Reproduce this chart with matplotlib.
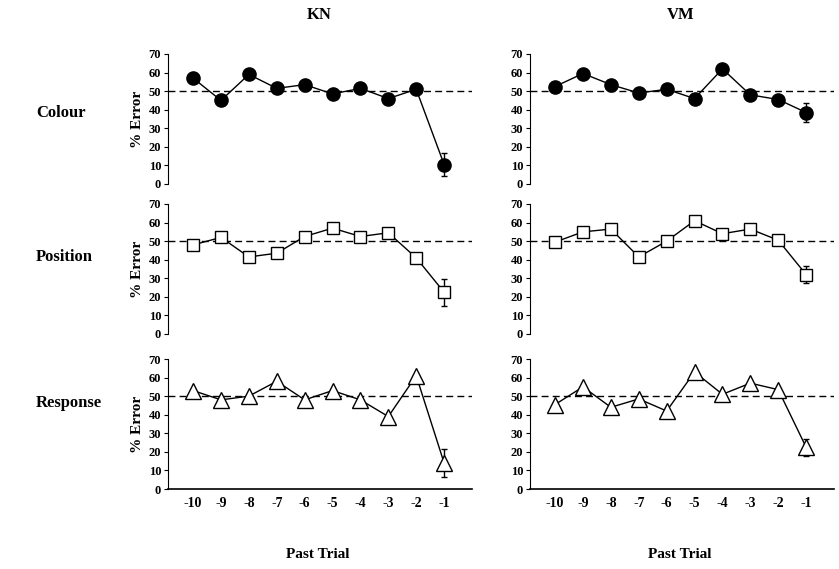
import numpy as np
import matplotlib.pyplot as plt

plt.rcParams['font.family'] = ['Liberation Serif', 'DejaVu Serif']
plt.rcParams['font.weight'] = 'bold'
plt.rcParams['axes.unicode_minus'] = False

# past trial positions
trials = np.array([-10, -9, -8, -7, -6, -5, -4, -3, -2, -1])

# % error, subject KN
kn_colour = [57, 45, 59, 51.5, 53.5, 48.5, 51.5, 46, 51, 10.5]
kn_position = [48, 52, 41.5, 43.5, 52.5, 57, 52.5, 54.5, 41, 22.5]
kn_response = [53, 48, 50, 58, 48, 53, 48, 39, 61, 14]

# % error, subject VM
vm_colour = [52.5, 59.5, 53.5, 49, 51, 46, 62, 48, 45.5, 38.5]
vm_position = [49.5, 55, 56.5, 41.5, 50, 61, 54, 56.5, 50.5, 32]
vm_response = [45.5, 55, 44, 48.5, 42, 63, 51, 57, 53.5, 22.5]

# error bar on the last trial only
kn_err = [6.2, 7.2, 7.5]
vm_err = [5.3, 4.5, 4.5]

rows = ['Colour', 'Position', 'Response']
subjects = ['KN', 'VM']
markers = [('o', 'black', 9.5), ('s', 'white', 8.5), ('^', 'white', 11)]

data = {'KN': [kn_colour, kn_position, kn_response],
        'VM': [vm_colour, vm_position, vm_response]}
errs = {'KN': kn_err, 'VM': vm_err}

fig = plt.figure(figsize=(8.39, 5.69), dpi=100)

W, H = 839, 569
col_left = [168, 530]
col_width = 304
row_top = [54, 204, 359]
row_label_y = [113, 257, 403]
row_h = 130

for c, subj in enumerate(subjects):
    for r in range(3):
        ax = fig.add_axes([col_left[c] / W, 1 - (row_top[r] + row_h) / H,
                           col_width / W, row_h / H])
        vals = data[subj][r]
        m, fc, ms = markers[r]
        ax.axhline(50, color='black', ls=(0, (5, 3)), lw=1, zorder=1)
        ax.plot(trials, vals, color='black', lw=1, zorder=2)
        ax.errorbar(trials[-1:], vals[-1:], yerr=errs[subj][r], fmt='none',
                    ecolor='black', elinewidth=1, capsize=2, zorder=2)
        ax.plot(trials, vals, ls='none', marker=m, ms=ms, mfc=fc,
                mec='black', mew=1, zorder=3)
        ax.set_xlim(-10.9, 0)
        ax.set_ylim(0, 70)
        ax.set_yticks(range(0, 71, 10))
        ax.spines['top'].set_visible(False)
        ax.spines['right'].set_visible(False)
        ax.spines['left'].set_linewidth(0.8)
        ax.tick_params(axis='y', labelsize=9, length=3, width=0.8, pad=2)
        for lab in ax.get_yticklabels():
            lab.set_fontweight('bold')
        if r < 2:
            ax.spines['bottom'].set_visible(False)
            ax.set_xticks([])
        else:
            ax.spines['bottom'].set_linewidth(1.2)
            ax.set_xticks(trials)
            ax.tick_params(axis='x', labelsize=10, length=0, pad=6)
            for lab in ax.get_xticklabels():
                lab.set_fontweight('bold')
        if c == 0:
            ax.set_ylabel('% Error', fontsize=11, fontweight='bold', labelpad=3)
            fig.text(36 / W, 1 - row_label_y[r] / H, rows[r],
                     fontsize=12, fontweight='bold', ha='left', va='center')
        if r == 0:
            fig.text((col_left[c] + 151) / W, 1 - 15 / H, subj,
                     fontsize=12, fontweight='bold', ha='center', va='center')
    fig.text((col_left[c] + 150) / W, 1 - 555 / H, 'Past Trial',
             fontsize=11, fontweight='bold', ha='center', va='center')

plt.savefig('out.png', dpi=100)
